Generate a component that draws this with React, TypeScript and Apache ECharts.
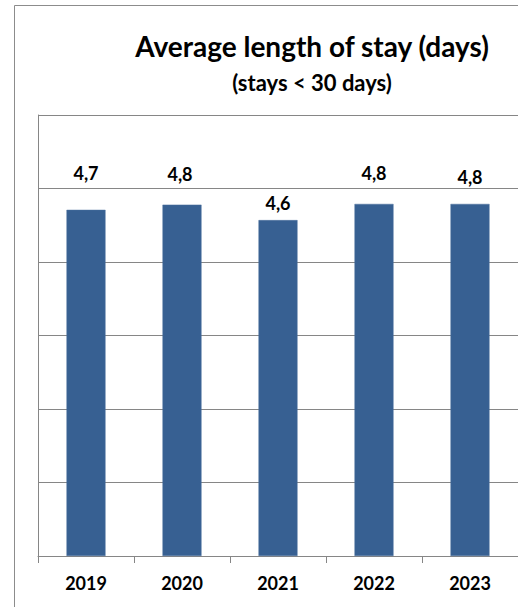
import React, { useEffect, useRef } from "react";
import * as echarts from "echarts";

const categories = ["2019", "2020", "2021", "2022", "2023"];
const stayDays = [4.71, 4.78, 4.57, 4.79, 4.79];
const valueLabels = ["4,7", "4,8", "4,6", "4,8", "4,8"];
const titleText = "Average length of stay (days)";
const subtitleText = "(stays < 30 days)";

const FONT = "Lato, 'Liberation Sans', sans-serif";

export default function App() {
  const ref = useRef<HTMLDivElement>(null);
  useEffect(() => {
    if (!ref.current) return;
    const chart = echarts.init(ref.current, undefined, { renderer: "svg" });
    // manual nudges of the data labels, as placed in the original
    const nudges = [
      [0, -27],
      [-2, -21],
      [0, -7],
      [0, -21],
      [0, -17],
    ];
    chart.setOption({
      animation: false,
      backgroundColor: "#ffffff",
      title: [
        {
          text: titleText,
          left: 307,
          top: 25,
          textAlign: "center",
          textStyle: {
            fontFamily: FONT,
            fontWeight: "bold",
            fontSize: 28,
            color: "#000000",
            lineHeight: 32,
          },
        },
        {
          text: subtitleText,
          left: 307,
          top: 65,
          textAlign: "center",
          textStyle: {
            fontFamily: FONT,
            fontWeight: "bold",
            fontSize: 22,
            color: "#000000",
            lineHeight: 24,
          },
        },
      ],
      graphic: [
        {
          type: "rect",
          shape: { x: 14.5, y: 5.5, width: 700, height: 800 },
          style: { fill: "none", stroke: "#8c8c8c", lineWidth: 1 },
          silent: true,
        },
      ],
      grid: { left: 38, top: 115, width: 481, height: 441, containLabel: false },
      xAxis: {
        type: "category",
        data: categories,
        axisLine: { show: true, lineStyle: { color: "#868686", width: 1 } },
        axisTick: { show: true, alignWithLabel: false, length: 7, lineStyle: { color: "#868686" } },
        axisLabel: {
          margin: 17,
          fontFamily: FONT,
          fontWeight: "bold",
          fontSize: 18,
          lineHeight: 20,
          color: "#000000",
        },
        splitLine: { show: false },
      },
      yAxis: {
        type: "value",
        min: 0,
        max: 6,
        interval: 1,
        axisLine: { show: true, lineStyle: { color: "#868686", width: 1 } },
        axisTick: { show: false },
        axisLabel: { show: false },
        splitLine: { show: true, lineStyle: { color: "#868686", width: 1 } },
      },
      series: [
        {
          type: "bar",
          barWidth: 39,
          data: stayDays.map((v, i) => ({
            value: v,
            label: {
              show: true,
              position: "top",
              distance: 0,
              offset: nudges[i],
              formatter: valueLabels[i],
              fontFamily: FONT,
              fontWeight: "bold",
              fontSize: 18,
              lineHeight: 20,
              color: "#000000",
            },
          })),
          itemStyle: { color: "#376092", borderColor: "#4a6f9c", borderWidth: 0.5 },
        },
      ],
    });
    return () => chart.dispose();
  }, []);
  return (
    <div
      ref={ref}
      style={{ position: "fixed", left: 0, top: 0, width: "518px", height: "607px" }}
    />
  );
}
